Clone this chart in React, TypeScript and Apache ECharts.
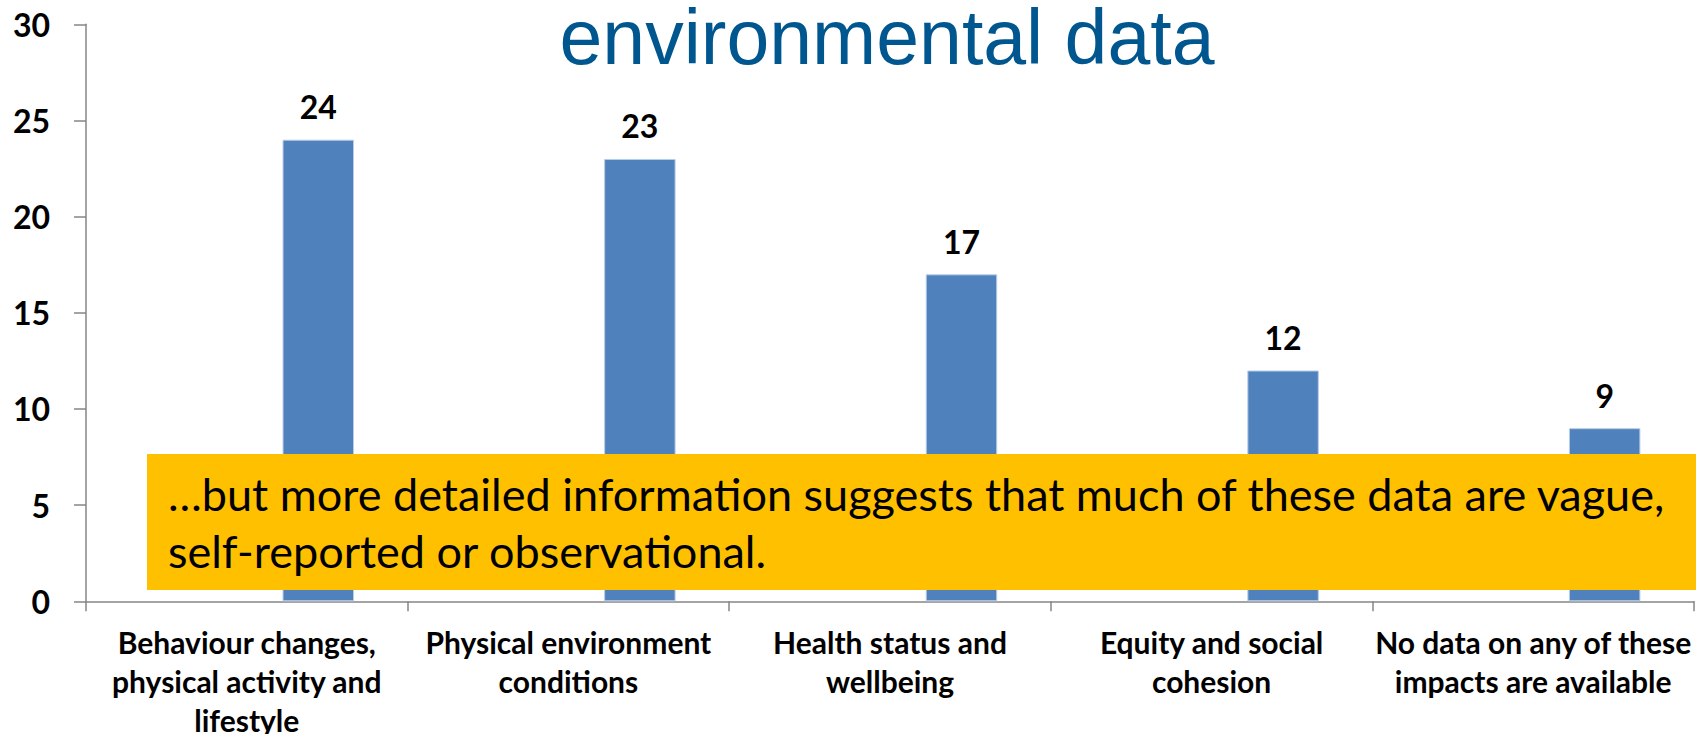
import React, { useEffect, useRef } from "react";
import * as echarts from "echarts";

const categories: string[] = [
  "Behaviour changes,\nphysical activity and\nlifestyle",
  "Physical environment\nconditions",
  "Health status and\nwellbeing",
  "Equity and social\ncohesion",
  "No data on any of these\nimpacts are available",
];
const values: number[] = [24, 23, 17, 12, 9];
const emptySeriesA: (number | null)[] = [null, null, null, null, null];
const emptySeriesB: (number | null)[] = [null, null, null, null, null];
const yTicks = { min: 0, max: 30, interval: 5 };
const titleText = "environmental data";
const noteText =
  "\u2026but more detailed information suggests that much of these data are vague,\nself-reported or observational.";

export default function App() {
  const ref = useRef<HTMLDivElement>(null);
  useEffect(() => {
    document.body.style.margin = "0";
    if (!ref.current) return;
    const chart = echarts.init(ref.current, undefined, { renderer: "svg" });
    const axisColor = "#868686";
    chart.setOption({
      animation: false,
      backgroundColor: "#ffffff",
      grid: {
        left: 86,
        right: 2,
        top: 24.3,
        bottom: 132.7,
        containLabel: false,
        outerBoundsMode: "none",
      },
      xAxis: {
        type: "category",
        data: categories,
        axisLine: { show: true, lineStyle: { color: axisColor, width: 1.5 } },
        axisTick: { show: true, length: 10, lineStyle: { color: axisColor, width: 1.5 } },
        axisLabel: {
          interval: 0,
          margin: 21,
          color: "#000",
          fontFamily: "Lato",
          fontWeight: "bold",
          fontSize: 30,
          lineHeight: 39,
          align: "center",
        },
        splitLine: { show: false },
      },
      yAxis: {
        type: "value",
        min: yTicks.min,
        max: yTicks.max,
        interval: yTicks.interval,
        axisLine: { show: true, lineStyle: { color: axisColor, width: 1.5 } },
        axisTick: { show: true, length: 12, lineStyle: { color: axisColor, width: 1.5 } },
        axisLabel: {
          margin: 36,
          color: "#000",
          fontFamily: "Lato",
          fontWeight: "bold",
          fontSize: 32,
        },
        splitLine: { show: false },
      },
      series: [
        { type: "bar", name: "a", data: emptySeriesA, barGap: "0%", barCategoryGap: "33.33%" },
        { type: "bar", name: "b", data: emptySeriesB, barGap: "0%", barCategoryGap: "33.33%" },
        {
          type: "bar",
          name: "Count",
          data: values,
          barGap: "0%",
          barCategoryGap: "33.33%",
          itemStyle: { color: "#4F81BD", borderColor: "#B9CDE5", borderWidth: 1 },
          label: {
            show: true,
            position: "top",
            distance: 17,
            color: "#000",
            fontFamily: "Lato",
            fontWeight: "bold",
            fontSize: 32,
          },
        },
      ],
      graphic: [
        {
          type: "text",
          x: 887,
          y: 36.6,
          z: 50,
          style: {
            text: titleText,
            fontFamily: "Liberation Sans",
            fontSize: 77,
            lineHeight: 60,
            fill: "#00568F",
            align: "center",
            verticalAlign: "middle",
          },
        },
        {
          type: "rect",
          z: 100,
          shape: { x: 147, y: 454, width: 1549, height: 136 },
          style: { fill: "#FFC000" },
        },
        {
          type: "text",
          z: 101,
          x: 168,
          y: 465,
          style: {
            text: noteText,
            fontFamily: "Lato",
            fontSize: 45,
            lineHeight: 57,
            fill: "#000",
            align: "left",
            verticalAlign: "top",
          },
        },
      ],
    });
    return () => chart.dispose();
  }, []);
  return <div ref={ref} style={{ width: 1696, height: 734 }} />;
}
